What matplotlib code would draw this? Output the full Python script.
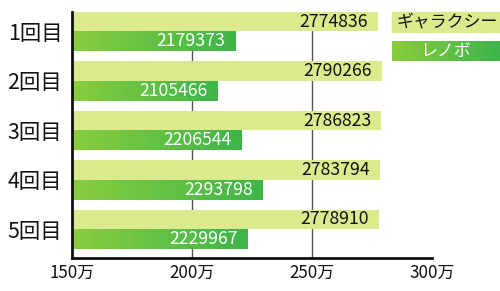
import matplotlib
matplotlib.use("Agg")
import matplotlib.pyplot as plt
import numpy as np
from matplotlib.patches import Rectangle
from matplotlib.colors import LinearSegmentedColormap

plt.rcParams['font.family'] = ['Noto Sans CJK JP', 'DejaVu Sans']

categories = ["1回目", "2回目", "3回目", "4回目", "5回目"]
galaxy = [2774836, 2790266, 2786823, 2783794, 2778910]
lenovo = [2179373, 2105466, 2206544, 2293798, 2229967]
series_names = ["ギャラクシー", "レノボ"]
xticks = [1500000, 2000000, 2500000, 3000000]
xticklabels = ["150万", "200万", "250万", "300万"]

galaxy_color = "#dcea8e"
grad = LinearSegmentedColormap.from_list("g", ["#8acd3e", "#3db54a"])
gradimg = np.linspace(0, 1, 256).reshape(1, -1)

fig = plt.figure(figsize=(5, 2.91), dpi=100)
ax = fig.add_axes([0.144, 1 - 258 / 291, 0.72, (258 - 11.7) / 291])
x0 = 1500000

bh = 0.4
y = np.arange(len(categories))
gb = ax.barh(y - bh / 2, np.array(galaxy) - x0, left=x0, height=bh,
             color=galaxy_color, zorder=2)
lb = ax.barh(y + bh / 2, np.array(lenovo) - x0, left=x0, height=bh,
             color="none", zorder=2)
for i, bar in enumerate(lb):
    xx, yy = bar.get_x(), bar.get_y()
    w, h = bar.get_width(), bar.get_height()
    im = ax.imshow(gradimg, cmap=grad, aspect='auto',
                   extent=[xx, xx + w, yy + h, yy], zorder=2.5)
    im.set_clip_path(bar)

ax.set_xlim(x0, 3000000)
ax.set_ylim(4.58, -0.4)

for i in range(len(categories)):
    ax.annotate(str(galaxy[i]), (galaxy[i], i - bh / 2), xytext=(-7, 0),
                textcoords="offset points", ha="right", va="center",
                fontsize=12.7, color="#111111", zorder=4)
    ax.annotate(str(lenovo[i]), (lenovo[i], i + bh / 2), xytext=(-7, 0),
                textcoords="offset points", ha="right", va="center",
                fontsize=12.7, color="white", zorder=4)

for gx in [2000000, 2500000]:
    ax.axvline(gx, color="#555555", lw=1, zorder=1)

ax.set_yticks(y)
ax.set_yticklabels(categories, fontsize=15.4, color="#111111")
ax.set_xticks(xticks)
ax.set_xticklabels(xticklabels, fontsize=12.2, color="#111111")
ax.tick_params(axis='both', length=0)
ax.tick_params(axis='y', pad=7)
ax.tick_params(axis='x', pad=4.5)
for s in ["top", "right"]:
    ax.spines[s].set_visible(False)
for s in ["left", "bottom"]:
    ax.spines[s].set_linewidth(2)
    ax.spines[s].set_color("#111111")

# legend
W, H = 500, 291
def fx(px):
    return px / W
def fy(py):
    return 1 - py / H

fig.patches.append(Rectangle((fx(392), fy(31.7)), fx(108), 20 / H,
                             transform=fig.transFigure, color=galaxy_color))
fig.text(fx(397), fy(21.7), series_names[0], fontsize=12.2, color="#111111",
         ha="left", va="center")
lax = fig.add_axes([fx(392), fy(60.7), fx(108), 20 / H])
lax.imshow(gradimg, cmap=grad, aspect='auto', extent=[0, 1, 0, 1])
lax.set_axis_off()
fig.text(fx(446), fy(50.7), series_names[1], fontsize=12.2, color="white",
         ha="center", va="center")

fig.savefig("out.png", dpi=100)
